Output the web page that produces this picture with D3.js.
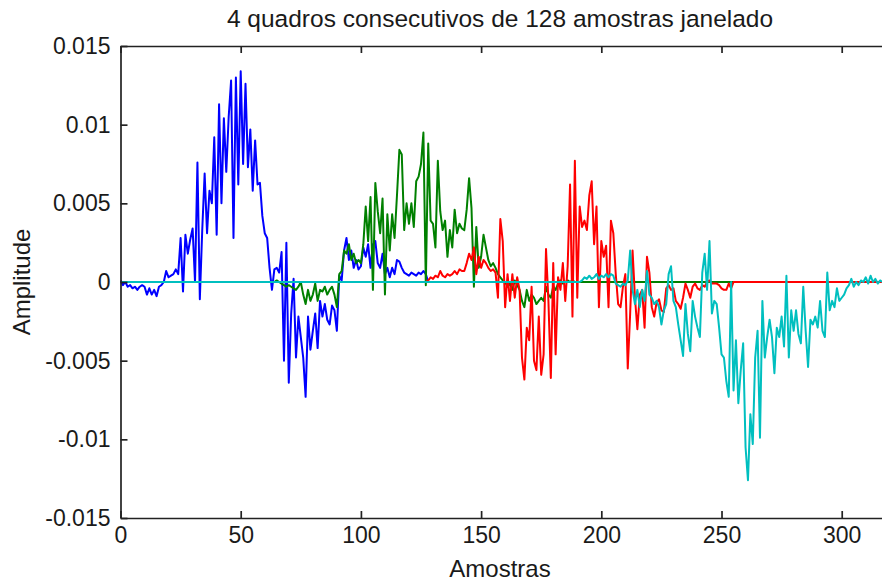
<!DOCTYPE html>
<html>
<head>
<meta charset="utf-8">
<script src="https://d3js.org/d3.v7.min.js"></script>
<style>
  html, body { margin:0; padding:0; background:#fff; }
  svg { display:block; font-family:"Liberation Sans", Arial, Helvetica, sans-serif; }
  .axis text { font-size:23px; fill:#1a1a1a; }
  .axis path, .axis line { stroke:#222; stroke-width:1.7; }
  .lbl { font-size:24px; fill:#1a1a1a; }
  .serie { fill:none; stroke-width:2; stroke-linejoin:round; }
</style>
</head>
<body>
<div id="chart"></div>
<script>
// ====== dados (amplitudes em unidades de 1e-4)
const AMP_UNIT = 1e-4;
const N_TOTAL = 320;          // amostras no eixo
const FRAME_STARTS = [0, 64, 128, 192];

const quadro1 = [
  1,-2,0,-3,-2,-4,-3,-5,-3,-2,
  -3,-8,-4,-8,-5,-9,-3,-2,0,7,
  3,4,5,8,5,28,-6,30,18,27,
  34,0,76,-11,33,69,31,58,50,92,
  30,113,50,104,70,105,128,28,130,62,
  134,75,126,73,97,58,90,62,63,42,
  31,28,9,-5,8,9,6,19,-50,25,
  -64,-20,2,-48,-22,-35,-48,-73,-22,-43,
  -31,-20,-42,-12,-22,-14,-24,-27,-15,-18,
  -31,4,1,20,28,14,20,9,14,8,
  10,22,16,24,9,24,26,12,9,18,
  5,9,3,9,5,14,13,9,6,5,
  4,6,5,4,6,5,7,5
];
const quadro2 = [
  0,1,0,-1,-2,-3,-2,-3,-4,-5,
  -3,0,-8,-14,-5,-12,-8,-1,-12,-5,
  -6,-3,-8,-5,-3,-8,-16,5,7,20,
  18,24,14,18,12,14,12,24,48,26,
  54,-5,63,45,31,53,-8,43,20,43,
  28,55,84,81,33,50,37,50,35,64,
  67,75,95,-2,88,39,37,22,77,45,
  33,39,16,33,22,46,31,37,34,33,
  46,66,47,-3,35,9,16,30,22,14,
  10,12,9,5,3,1,0,-3,-1,-5,
  1,-2,-5,-12,-16,-5,-12,-8,-10,-14,
  -12,-10,-12,-3,-8,-10,-3,-5,-1,1,
  -1,0,1,0,1,0,0,0
];
const quadro3 = [
  1,3,2,4,3,7,4,3,5,4,
  5,7,5,8,7,7,12,18,14,22,
  5,16,9,14,12,9,7,8,6,-10,
  40,26,-16,5,-12,5,-10,3,-5,-48,
  -62,-29,-37,-3,-50,-56,-22,-59,-46,21,
  -12,-61,12,-46,3,-5,12,-12,10,62,
  -22,77,-10,48,35,39,33,55,64,24,
  48,-16,26,16,23,-16,39,31,5,-14,
  -16,-3,5,-55,-20,20,-10,-30,-8,-5,
  -29,16,6,-16,-22,-13,-11,-18,-19,-4,
  -2,-5,-4,-12,-14,-17,-10,-1,-5,-10,
  -3,-1,-4,-5,-2,-3,0,1,-1,-1,
  -1,-2,-4,-5,-5,-1,-4,0
];
const quadro4 = [
  1,3,2,4,2,3,5,2,4,3,
  5,3,5,4,-1,-2,-3,-1,-2,1,
  20,-5,-14,-5,-16,-5,-12,7,-8,-10,
  -14,-12,-16,-27,-18,-14,5,10,-12,-16,
  -27,-37,-47,-14,-33,-44,-12,-22,-29,-35,
  6,18,-5,26,-20,-12,-14,-29,-46,-48,
  -63,-73,0,-69,-37,-77,-56,-39,-105,-126,
  -84,-103,-48,-31,-99,-12,-48,-35,-24,-35,
  -58,-29,-35,-22,-41,4,-48,-18,-31,-18,
  -33,-39,-3,-31,-54,-24,-27,-22,-29,-12,
  -31,-35,6,-18,-12,-16,-4,-12,-10,-8,
  -4,-2,2,-3,0,-2,1,0,3,-1,
  4,0,2,-1,1,0,1,0
];
const QUADROS = [quadro1, quadro2, quadro3, quadro4];
const CORES = ["#0000ff", "#008000", "#ff0000", "#00bfbf"];

const X_TICKS = [0, 50, 100, 150, 200, 250, 300];
const Y_TICKS = [-0.015, -0.01, -0.005, 0, 0.005, 0.01, 0.015];
const Y_TICK_LABELS = ["-0.015", "-0.01", "-0.005", "0", "0.005", "0.01", "0.015"];

const TITULO = "4 quadros consecutivos de 128 amostras janelado";
const X_LABEL = "Amostras";
const Y_LABEL = "Amplitude";

// ====== dimensões
const W = 882, H = 584;
const M = {l:120.5, t:46, r:889.8, b:518};   // y(0) cai numa borda de pixel
const TICK = 7;

// ====== cada quadro completado com zeros fora da janela (como no plot original)
const series = QUADROS.map((q, k) => {
  const s0 = FRAME_STARTS[k];
  return d3.range(N_TOTAL).map(n => {
    const i = n - s0;
    const v = (i >= 0 && i < q.length) ? q[i] : 0;
    return {n, v: v * AMP_UNIT};
  });
});

const svg = d3.select("#chart").append("svg")
  .attr("width", W).attr("height", H)
  .attr("viewBox", [0, 0, W, H]);

const x = d3.scaleLinear().domain([0, 320]).range([M.l, M.r]);
const y = d3.scaleLinear().domain([-0.015, 0.015]).range([M.b, M.t]);

svg.append("clipPath").attr("id", "clip")
  .append("rect")
  .attr("x", M.l).attr("y", M.t)
  .attr("width", M.r - M.l).attr("height", M.b - M.t);

// ====== linhas (ordem do plot: azul, verde, vermelho, ciano)
const line = d3.line().x(d => x(d.n)).y(d => y(d.v));
svg.append("g").attr("clip-path", "url(#clip)")
  .selectAll("path")
  .data(series)
  .join("path")
  .attr("class", "serie")
  .attr("stroke", (d, i) => CORES[i])
  .attr("d", line);

// ====== eixos (ticks para dentro, estilo matlab)
svg.append("g").attr("class", "axis")
  .attr("transform", `translate(0,${M.b})`)
  .call(d3.axisBottom(x).tickValues(X_TICKS).tickFormat(d3.format("d"))
    .tickSizeInner(-TICK).tickSizeOuter(0).tickPadding(9));

svg.append("g").attr("class", "axis")
  .attr("transform", `translate(0,${M.t})`)
  .call(d3.axisTop(x).tickValues(X_TICKS).tickFormat("")
    .tickSizeInner(-TICK).tickSizeOuter(0));

svg.append("g").attr("class", "axis")
  .attr("transform", `translate(${M.l},0)`)
  .call(d3.axisLeft(y).tickValues(Y_TICKS).tickFormat((d, i) => Y_TICK_LABELS[i])
    .tickSizeInner(-TICK).tickSizeOuter(0).tickPadding(10));

svg.append("g").attr("class", "axis")
  .attr("transform", `translate(${M.r},0)`)
  .call(d3.axisRight(y).tickValues(Y_TICKS).tickFormat("")
    .tickSizeInner(-TICK).tickSizeOuter(0));

// ====== textos
svg.append("text").attr("class", "lbl")
  .attr("x", 500).attr("y", 27).attr("text-anchor", "middle")
  .style("font-size", "24.5px")
  .text(TITULO);

svg.append("text").attr("class", "lbl")
  .attr("x", 500).attr("y", 577).attr("text-anchor", "middle")
  .text(X_LABEL);

svg.append("text").attr("class", "lbl")
  .attr("transform", "translate(30,282) rotate(-90)")
  .attr("text-anchor", "middle")
  .text(Y_LABEL);
</script>
</body>
</html>
